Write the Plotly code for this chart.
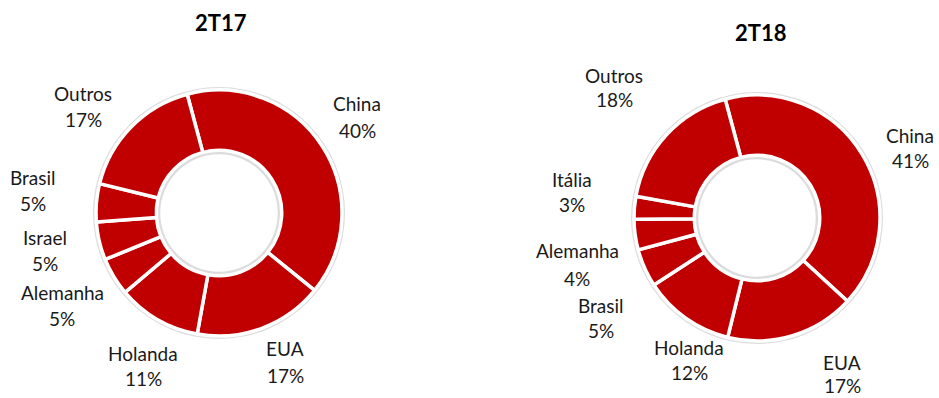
import plotly.graph_objects as go

W, H = 939, 398

# ---- data ----
labels_17 = ["China", "EUA", "Holanda", "Alemanha", "Israel", "Brasil", "Outros"]
values_17 = [40, 17, 11, 5, 5, 5, 17]
labels_18 = ["China", "EUA", "Holanda", "Brasil", "Alemanha", "Itália", "Outros"]
values_18 = [41, 17, 12, 5, 4, 3, 18]
titles = ["2T17", "2T18"]

# ---- layout helpers (pixel positions) ----
RED = "#C00000"
FONT = "Lato"

def dom(cx, cy, r):
    return dict(x=[(cx - r) / W, (cx + r) / W], y=[(H - cy - r) / H, (H - cy + r) / H])

centers = [(219, 213, 123), (757, 218, 123)]
# label block positions: (x, y of name line, y of percent line)
lbl_pos_17 = [(357, 103, 130), (285, 348, 375), (143, 353, 378), (62, 292, 318),
              (45, 237, 263), (33, 177, 203), (83, 93, 120)]
lbl_pos_18 = [(910, 135, 161), (842, 362, 385), (689, 347, 372), (601, 305, 330),
              (577, 250, 278), (572, 180, 205), (614, 75, 100)]
title_pos = [(221, 23), (760, 32)]

fig = go.Figure()

for (cx, cy, r), labels, values in zip(centers, [labels_17, labels_18], [values_17, values_18]):
    # soft shadow ring behind the donut
    fig.add_trace(go.Pie(values=[1], labels=["bg"], domain=dom(cx, cy, r + 3), hole=(0.51 * r - 4) / (r + 3),
                         marker=dict(colors=["#dcdcdc"], line=dict(width=0)), textinfo="none",
                         hoverinfo="skip", showlegend=False, sort=False))
    fig.add_trace(go.Pie(values=values, labels=labels, domain=dom(cx, cy, r), hole=0.51,
                         sort=False, direction="clockwise", rotation=-15,
                         marker=dict(colors=[RED] * len(values), line=dict(color="white", width=3.5)),
                         textinfo="none", showlegend=False))

annotations = []
for labels, values, pos in [(labels_17, values_17, lbl_pos_17), (labels_18, values_18, lbl_pos_18)]:
    for lab, v, (x, y1, y2) in zip(labels, values, pos):
        for txt, yy in [(lab, y1), (f"{v}%", y2)]:
            annotations.append(dict(text=txt, x=x / W, y=1 - yy / H, xref="paper", yref="paper",
                                    xanchor="center", yanchor="middle", showarrow=False, borderpad=0,
                                    font=dict(family=FONT, size=19, color="#1a1a1a")))
for t, (x, y) in zip(titles, title_pos):
    annotations.append(dict(text=f"<b>{t}</b>", x=x / W, y=1 - y / H, xref="paper", yref="paper",
                            xanchor="center", yanchor="middle", showarrow=False,
                            font=dict(family=FONT, size=22, color="#000000")))

fig.update_layout(width=W, height=H, margin=dict(l=0, r=0, t=0, b=0),
                  paper_bgcolor="white", plot_bgcolor="white", annotations=annotations)

fig.write_html("out.html")
